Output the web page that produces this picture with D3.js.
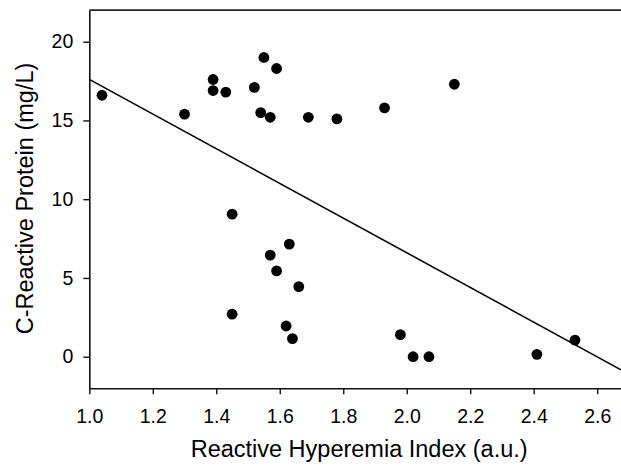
<!DOCTYPE html>
<html>
<head>
<meta charset="utf-8">
<script src="https://cdn.jsdelivr.net/npm/d3@7"></script>
<style>
  body { margin: 0; background: #fff; }
  svg text { font-family: "Liberation Sans", Arial, sans-serif; fill: #000; }
</style>
</head>
<body>
<script>
var w = 621;
var h = 468;

// data
var rhiValues = [1.04, 1.30, 1.39, 1.39, 1.43, 1.52, 1.55, 1.59, 1.54, 1.57, 1.69, 1.78, 1.93, 2.15,
                 1.45, 1.57, 1.63, 1.59, 1.66, 1.45, 1.62, 1.64, 1.98, 2.02, 2.07, 2.41, 2.53];
var crpValues = [16.6, 15.4, 17.6, 16.9, 16.8, 17.1, 19.0, 18.3, 15.5, 15.2, 15.2, 15.1, 15.8, 17.3,
                 9.05, 6.45, 7.15, 5.45, 4.45, 2.7, 1.95, 1.15, 1.4, 0.0, 0.0, 0.15, 1.05];
var xTicks = [1.0, 1.2, 1.4, 1.6, 1.8, 2.0, 2.2, 2.4, 2.6];
var yTicks = [0, 5, 10, 15, 20];
var fitIntercept = 28.62;  // regression line y = a + b*x
var fitSlope = -11.01;

var padL = 89.3, padR = 621, padT = 10.2, padB = 388.2;

var svg = d3.select("body")
            .append("svg")
            .attr("width", w)
            .attr("height", h);

var xScale = d3.scaleLinear()
               .domain([1.0, 2.675])
               .range([padL, padR]);

var yScale = d3.scaleLinear()
                .domain([-2, 22])
                .range([padB, padT]);

var xAxis = d3.axisBottom(xScale)
              .tickValues(xTicks)
              .tickFormat(d3.format(".1f"))
              .tickSizeInner(6)
              .tickSizeOuter(0)
              .tickPadding(15);

var yAxis = d3.axisLeft(yScale)
              .tickValues(yTicks)
              .tickSizeInner(6)
              .tickSizeOuter(0)
              .tickPadding(10);

var gx = svg.append("g")
   .attr("transform", "translate(0," + padB + ")")
   .call(xAxis);

var gy = svg.append("g")
   .attr("transform", "translate(" + padL + ",0)")
   .call(yAxis);

[gx, gy].forEach(function(g) {
    g.attr("font-size", 19.5).attr("font-family", null);
    g.select(".domain").attr("stroke", "#111").attr("stroke-width", 1.6);
    g.selectAll(".tick line").attr("stroke", "#111").attr("stroke-width", 1.4);
    g.selectAll(".tick text").attr("fill", "#000");
});

// top frame line
svg.append("line")
   .attr("x1", padL).attr("x2", padR)
   .attr("y1", yScale(22)).attr("y2", yScale(22))
   .attr("stroke", "#222")
   .attr("stroke-width", 1.8);

// regression line
var xDom = xScale.domain();
svg.append("line")
   .attr("x1", xScale(xDom[0]))
   .attr("y1", yScale(fitIntercept + fitSlope * xDom[0]))
   .attr("x2", xScale(xDom[1]))
   .attr("y2", yScale(fitIntercept + fitSlope * xDom[1]))
   .attr("stroke", "#000")
   .attr("stroke-width", 1.6);

// points
svg.selectAll("circle")
   .data(rhiValues)
   .enter()
   .append("circle")
   .attr("cx", function(d) { return xScale(d); })
   .attr("cy", function(d, i) { return yScale(crpValues[i]); })
   .attr("r", 5.4)
   .attr("fill", "#000");

// axis titles
svg.append("text")
   .attr("x", (padL + padR) / 2 + 4)
   .attr("y", 457)
   .attr("text-anchor", "middle")
   .attr("font-size", 23.5)
   .text("Reactive Hyperemia Index (a.u.)");

svg.append("text")
   .attr("transform", "translate(33,198.5) rotate(-90)")
   .attr("text-anchor", "middle")
   .attr("font-size", 23.5)
   .text("C-Reactive Protein (mg/L)");
</script>
</body>
</html>
